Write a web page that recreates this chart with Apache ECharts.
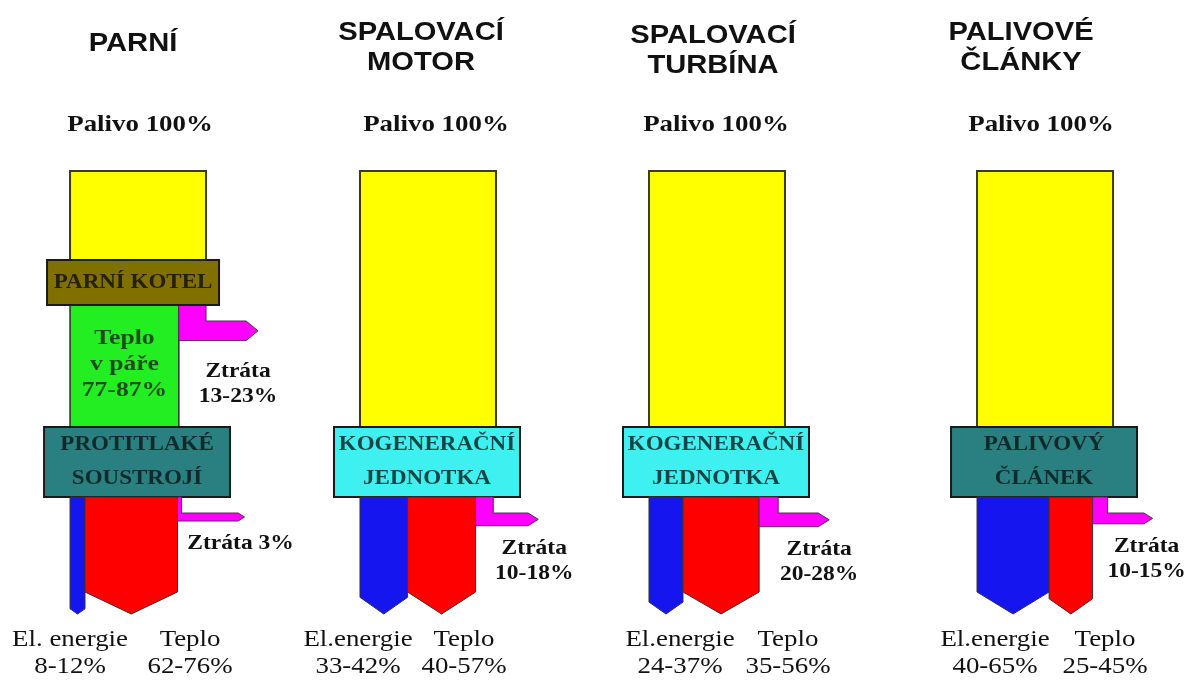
<!DOCTYPE html>
<html>
<head>
<meta charset="utf-8">
<script src="https://cdn.jsdelivr.net/npm/echarts@6/dist/echarts.min.js"></script>
<style>
  html, body { margin: 0; padding: 0; background: #ffffff; }
  #chart { width: 1184px; height: 681px; }
</style>
</head>
<body>
<div id="chart"></div>
<script>
// data (widths in % of fuel energy)
const titles = ['PARNÍ', 'SPALOVACÍ\nMOTOR', 'SPALOVACÍ\nTURBÍNA', 'PALIVOVÉ\nČLÁNKY'];
const fuel = [100, 100, 100, 100];
const fuelLabels = ['Palivo 100%', 'Palivo 100%', 'Palivo 100%', 'Palivo 100%'];
const steamHeat = [80, 0, 0, 0];
const steamLoss = [20, 0, 0, 0];
const steamHeatLabels = ['Teplo\nv páře\n77-87%', '', '', ''];
const steamLossLabels = ['Ztráta\n13-23%', '', '', ''];
const boilerLabels = ['PARNÍ KOTEL', '', '', ''];
const unitLabels = ['PROTITLAKÉ\nSOUSTROJÍ', 'KOGENERAČNÍ\nJEDNOTKA', 'KOGENERAČNÍ\nJEDNOTKA', 'PALIVOVÝ\nČLÁNEK'];
const electricity = [11, 35, 25, 53];
const heat = [68, 50, 56, 32];
const loss = [3, 13, 14, 11];
const lossLabels = ['Ztráta 3%', 'Ztráta\n10-18%', 'Ztráta\n20-28%', 'Ztráta\n10-15%'];
const electricityLabels = ['El. energie\n8-12%', 'El.energie\n33-42%', 'El.energie\n24-37%', 'El.energie\n40-65%'];
const heatLabels = ['Teplo\n62-76%', 'Teplo\n40-57%', 'Teplo\n35-56%', 'Teplo\n25-45%'];

// layout only
const W = 1184, H = 681;
const PX_PER_PCT = 1.36;
const panelLeft = [51.5, 264.7, 477.2, 718.4];
const titleDx = [-5, -7, -4, -24];
const titleY = [44, 48, 51, 48];
const fuelDx = [2, 8, -1, -4];
const unitColors = ['#2a7f80', '#3ff0f0', '#3ff0f0', '#2a7f80'];
const unitText = ['#0e2a2a', '#154545', '#154545', '#0e2a2a'];
const elDx = [0, -2, 31, 18];
const heatDx = [120, 104, 139, 128];
const lossDx = [-4, -4, -10, -6];
const lossLen = [63, 45, 51, 45];

const SERIF = '"Liberation Serif", "DejaVu Serif", serif';
const SANS = '"Liberation Sans", Arial, sans-serif';

function txt(x, y, text, o) {
    return {
        type: 'text', x: x, y: y, scaleX: o.stretch || 1.12,
        style: {
            text: text, fill: o.color || '#111111',
            fontSize: o.size, fontFamily: o.family || SERIF, fontWeight: o.weight || 'bold',
            lineHeight: o.lh || o.size + 4,
            align: 'center', verticalAlign: o.va || 'middle',
            textAlign: 'center', textVerticalAlign: o.va || 'middle'
        }
    };
}

function rect(x, y, w, h, fill, stroke, lw) {
    return {
        type: 'rect', shape: { x: x, y: y, width: w, height: h },
        style: { fill: fill, stroke: stroke || '#2d2d2d', lineWidth: lw || 1.5 }
    };
}

function downArrow(l, w, top, tipY, fill) {
    const depth = Math.min(22, w * 0.35);
    return {
        type: 'polygon',
        shape: { points: [[l, top], [l + w, top], [l + w, tipY - depth], [l + w / 2, tipY], [l, tipY - depth]] },
        style: { fill: fill, stroke: '#333333', lineWidth: 1 }
    };
}

function lossArrow(l, w, top, len) {
    const r = l + w;
    const bh = Math.max(8, w * 0.72);
    const bt = top + 16, bb = bt + bh;
    const tip = r + len, head = Math.min(12, bh * 0.8);
    return {
        tip: tip, bottom: bb,
        el: {
            type: 'polygon',
            shape: { points: [[l, top], [r, top], [r, bt], [tip - head, bt], [tip, (bt + bb) / 2], [tip - head, bb], [l, bb]] },
            style: { fill: '#ff00ff', stroke: '#5a2a5a', lineWidth: 1 }
        }
    };
}

function renderItem(params, api) {
    const i = api.value(0);
    const x0 = panelLeft[i];
    const px = v => api.coord([x0 + v, 0])[0];
    const py = v => api.coord([0, v])[1];
    const wOf = v => api.size([v, 0])[0];

    const fuelW = wOf(api.value(1));
    const sHeat = api.value(2), sLoss = api.value(3);
    const el = api.value(4), ht = api.value(5), ls = api.value(6);
    const X0 = px(0);
    const hasSteam = sHeat > 0;
    const unitTop = py(427), unitBot = py(497), tipY = py(614);
    const kids = [];

    // fuel column
    const fuelBottom = hasSteam ? py(260) : unitTop;
    kids.push(rect(X0, py(171), fuelW, fuelBottom - py(171), '#ffff00', '#3c3c1a', 2));

    // title + fuel label
    kids.push(txt(X0 + fuelW / 2 + titleDx[i], py(titleY[i]), titles[i], { size: 26, family: SANS, lh: 30, color: '#111111' }));
    kids.push(txt(X0 + fuelW / 2 + fuelDx[i], py(125), fuelLabels[i], { size: 24 }));

    if (hasSteam) {
        const gw = wOf(sHeat);
        kids.push(rect(X0, py(305), gw, unitTop - py(305), '#22ee22', '#2d2d2d', 1.5));
        const sl = lossArrow(px(sHeat), wOf(sLoss), py(305), 52);
        kids.push(sl.el);
        kids.push(txt(X0 + gw / 2, py(365), steamHeatLabels[i], { size: 21, lh: 26, color: '#1d4d1d', stretch: 1.22 }));
        kids.push(txt(sl.tip - 20, sl.bottom + 18, steamLossLabels[i], { size: 21, lh: 25, va: 'top' }));
        kids.push(rect(X0 - 23, py(260), fuelW + 36, py(305) - py(260), '#7f7000', '#1a1a1a', 2));
        kids.push(txt(X0 - 23 + (fuelW + 36) / 2, py(283), boilerLabels[i], { size: 20, color: '#24200a', stretch: 1.15 }));
    }

    // conversion unit box
    const bx = X0 - 26, bw = fuelW + 50;
    kids.push(rect(bx, unitTop, bw, unitBot - unitTop, unitColors[i], '#1a1a1a', 2));
    kids.push(txt(bx + bw / 2, (unitTop + unitBot) / 2, unitLabels[i], { size: 20, lh: 34, color: unitText[i], stretch: 1.15 }));

    // outputs
    kids.push(downArrow(px(0), wOf(el), unitBot, tipY, '#1515f0'));
    kids.push(downArrow(px(el), wOf(ht), unitBot, tipY, '#ff0000'));
    const la = lossArrow(px(el + ht), wOf(ls), unitBot, lossLen[i]);
    kids.push(la.el);
    kids.push(txt(la.tip + lossDx[i], la.bottom + 10, lossLabels[i], { size: 21, lh: 25, va: 'top' }));

    // bottom labels
    kids.push(txt(X0 + elDx[i], py(653), electricityLabels[i], { size: 24, weight: 'normal', lh: 27 }));
    kids.push(txt(X0 + heatDx[i], py(653), heatLabels[i], { size: 24, weight: 'normal', lh: 27 }));

    return { type: 'group', children: kids };
}

const chart = echarts.init(document.getElementById('chart'));
const seriesData = titles.map((t, i) => [i, fuel[i], steamHeat[i], steamLoss[i], electricity[i], heat[i], loss[i]]);

chart.setOption({
    backgroundColor: '#ffffff',
    animation: false,
    grid: { left: 0, right: 0, top: 0, bottom: 0 },
    xAxis: { type: 'value', min: 0, max: W / PX_PER_PCT, show: false },
    yAxis: { type: 'value', min: 0, max: H, inverse: true, show: false },
    series: [{
        type: 'custom',
        renderItem: renderItem,
        encode: { x: 1, y: 0 },
        data: seriesData,
        clip: false
    }]
});
</script>
</body>
</html>
